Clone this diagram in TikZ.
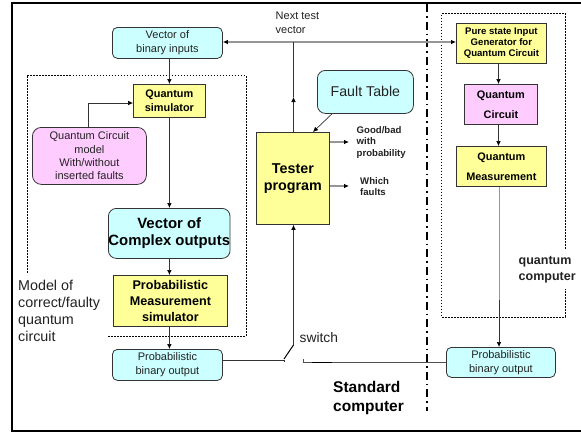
\documentclass[tikz,border=0pt]{standalone}
\usepackage{fontspec}
\setmainfont{Liberation Sans}
\usetikzlibrary{arrows.meta}
\definecolor{cy}{HTML}{CCFFFF}
\definecolor{ye}{HTML}{FFFF99}
\definecolor{pk}{HTML}{FFCCFF}
\definecolor{ln}{HTML}{333333}
\definecolor{gl}{HTML}{969696}
\definecolor{tx}{HTML}{222222}
\tikzset{
  x=1pt,y=-1pt,
  tip/.tip={Latex[length=5pt,width=4.6pt,color=black]},
  lbl/.style={inner sep=0pt,align=left,anchor=north west,text=tx},
  rbox/.style={draw=ln,line width=.8pt,rounded corners=5pt,align=center,inner sep=0pt,text=tx,anchor=north west},
  sbox/.style={draw=ln,line width=.8pt,align=center,inner sep=0pt,text=black,anchor=north west},
  conn/.style={line width=.7pt,draw=ln,-tip},
  plain/.style={line width=.7pt,draw=ln},
  gconn/.style={line width=1.5pt,draw=gl},
  dots/.style={line width=.9pt,draw=black,dash pattern=on 1.6pt off 1.4pt},
}
\begin{document}
\begin{tikzpicture}
\useasboundingbox (0,0) rectangle (581,432);
\fill[white] (0,0) rectangle (581,432);
% frame
\draw[line width=2pt,black] (581,3) -- (12,3) -- (12,431) -- (581,431);
% dotted regions
\draw[dots] (27,273) -- (27,75.5) -- (246,75.5) -- (246,336) -- (108,336);
\draw[dots] (565,249) -- (565,13.5) -- (441.5,13.5) -- (441.5,317) -- (565,317) -- (565,289);
% separator
\draw[line width=1.2pt,black,dash pattern=on 8pt off 4pt on 1.5pt off 4pt] (427,4) -- (427,411);
% nodes
\node[rbox,fill=cy,minimum width=110pt,minimum height=31pt,font=\fontsize{11}{14}\selectfont] (vbi) at (112,27) {Vector of\\binary inputs};
\node[sbox,fill=ye,minimum width=72pt,minimum height=33pt,font=\fontsize{10.9}{14}\selectfont\bfseries] (qs) at (133,84) {Quantum\\simulator};
\node[rbox,rounded corners=9pt,fill=pk,minimum width=114pt,minimum height=57pt,font=\fontsize{11}{13.4}\selectfont] (qcm) at (32,127) {Quantum Circuit\\model\\With/without\\inserted faults};
\node[rbox,rounded corners=8pt,text=black,fill=cy,minimum width=119pt,minimum height=50pt,font=\fontsize{14.9}{17.3}\selectfont\bfseries] (vco) at (108,208) {Vector of\\Complex outputs};
\node[sbox,fill=ye,minimum width=114pt,minimum height=51pt,font=\fontsize{12.6}{15.6}\selectfont\bfseries] (pms) at (113,275) {Probabilistic\\Measurement\\simulator};
\node[rbox,fill=cy,minimum width=110pt,minimum height=31pt,font=\fontsize{11}{14}\selectfont] (pbl) at (112,349) {Probabilistic\\binary output};
\node[sbox,fill=ye,minimum width=73pt,minimum height=92pt,font=\fontsize{14.3}{17.5}\selectfont\bfseries] (tp) at (256,132) {Tester\\program};
\node[rbox,rounded corners=8pt,fill=cy,minimum width=96pt,minimum height=43pt,font=\fontsize{14.2}{17}\selectfont] (ft) at (317,70) {Fault Table};
\node[sbox,fill=ye,minimum width=90pt,minimum height=40pt,font=\fontsize{9.6}{11}\selectfont\bfseries] (psi) at (456,23) {Pure state Input\\Generator for\\Quantum Circuit};
\node[sbox,fill=pk,minimum width=73pt,minimum height=40pt,font=\fontsize{10.9}{20}\selectfont\bfseries] (qc) at (464,84) {Quantum\\Circuit};
\node[sbox,fill=ye,minimum width=90pt,minimum height=40pt,font=\fontsize{10.9}{20}\selectfont\bfseries] (qm) at (456,146) {Quantum\\Measurement};
\node[rbox,fill=cy,minimum width=109pt,minimum height=30pt,font=\fontsize{11}{14}\selectfont] (pbr) at (446,347) {Probabilistic\\binary output};
% labels
\node[lbl,font=\fontsize{11}{14}\selectfont] (ntv) at (275.5,12) {Next test\\vector};
\node[lbl,font=\fontsize{14.3}{17}\selectfont] (mod) at (18,280) {Model of\\correct/faulty\\quantum\\circuit};
\node[lbl,font=\fontsize{9.6}{11.5}\selectfont\bfseries] (gb) at (356.5,126) {Good/bad\\with\\probability};
\node[lbl,font=\fontsize{9.6}{11}\selectfont\bfseries] (wf) at (360,177) {Which\\faults};
\node[lbl,font=\fontsize{12.5}{16}\selectfont\bfseries] (qcp) at (518.5,256) {quantum\\computer};
\node[lbl,font=\fontsize{13.8}{16}\selectfont] (sw) at (299.5,332.5) {switch};
\node[lbl,text=black,font=\fontsize{15.5}{19}\selectfont\bfseries] (sc) at (333,381) {Standard\\computer};
% connector helpers
\coordinate (ga) at (293.5,42);
\coordinate (swa) at (284,360);
\coordinate (swb) at (293.5,345);
\coordinate (swc) at (303,362.7);
\coordinate (a1) at (349,142);
\coordinate (a2) at (349,186);
% connectors
\draw[gconn,tip-tip] (vbi.east |- ga) -- (psi.west |- ga);
\draw[conn] (tp.north -| ga) -- (ga |- 0,97);
\draw[plain] (ga |- 0,97) -- (ga);
\draw[conn] (vbi.south -| qs.north) -- (qs.north);
\draw[conn] (qcm.north -| 88.5,0) -- (88.5,103) -- (qs.west |- 0,103);
\draw[conn] (qs.south) -- (qs.south |- vco.north);
\draw[conn] (vco.south -| qs.south) -- (qs.south |- pms.north);
\draw[conn] (pms.south -| qs.south) -- (qs.south |- pbl.north);
\draw[conn] (ft.south west) ++(15,0) -- (313,132);
\draw[gconn,-tip] (tp.east |- a1) -- (a1);
\draw[gconn,-tip] (tp.east |- a2) -- (a2);
\draw[conn] (psi.south -| 498.5,0) -- (498.5,84);
\draw[conn] (qc.south -| 498.5,0) -- (498.5,146);
\draw[gconn] (qm.south -| 499.5,0) -- (499.5,300);
\draw[conn] (499,300) -- (499,347);
% switch
\draw[plain,line width=1pt] (pbl.east |- swa) -- (swa) -- (284,362);
\draw[line width=1pt,black] (284,359) -- (swb);
\draw[conn] (swb) -- (tp.south -| swb);
\draw[plain,line width=1pt,draw=gl!30!ln] (pbr.west |- swc) -- (swc) -- (303,359);
\draw[line width=1.2pt,black] (312,362.7) -- (332,362.7);
\end{tikzpicture}
\end{document}
